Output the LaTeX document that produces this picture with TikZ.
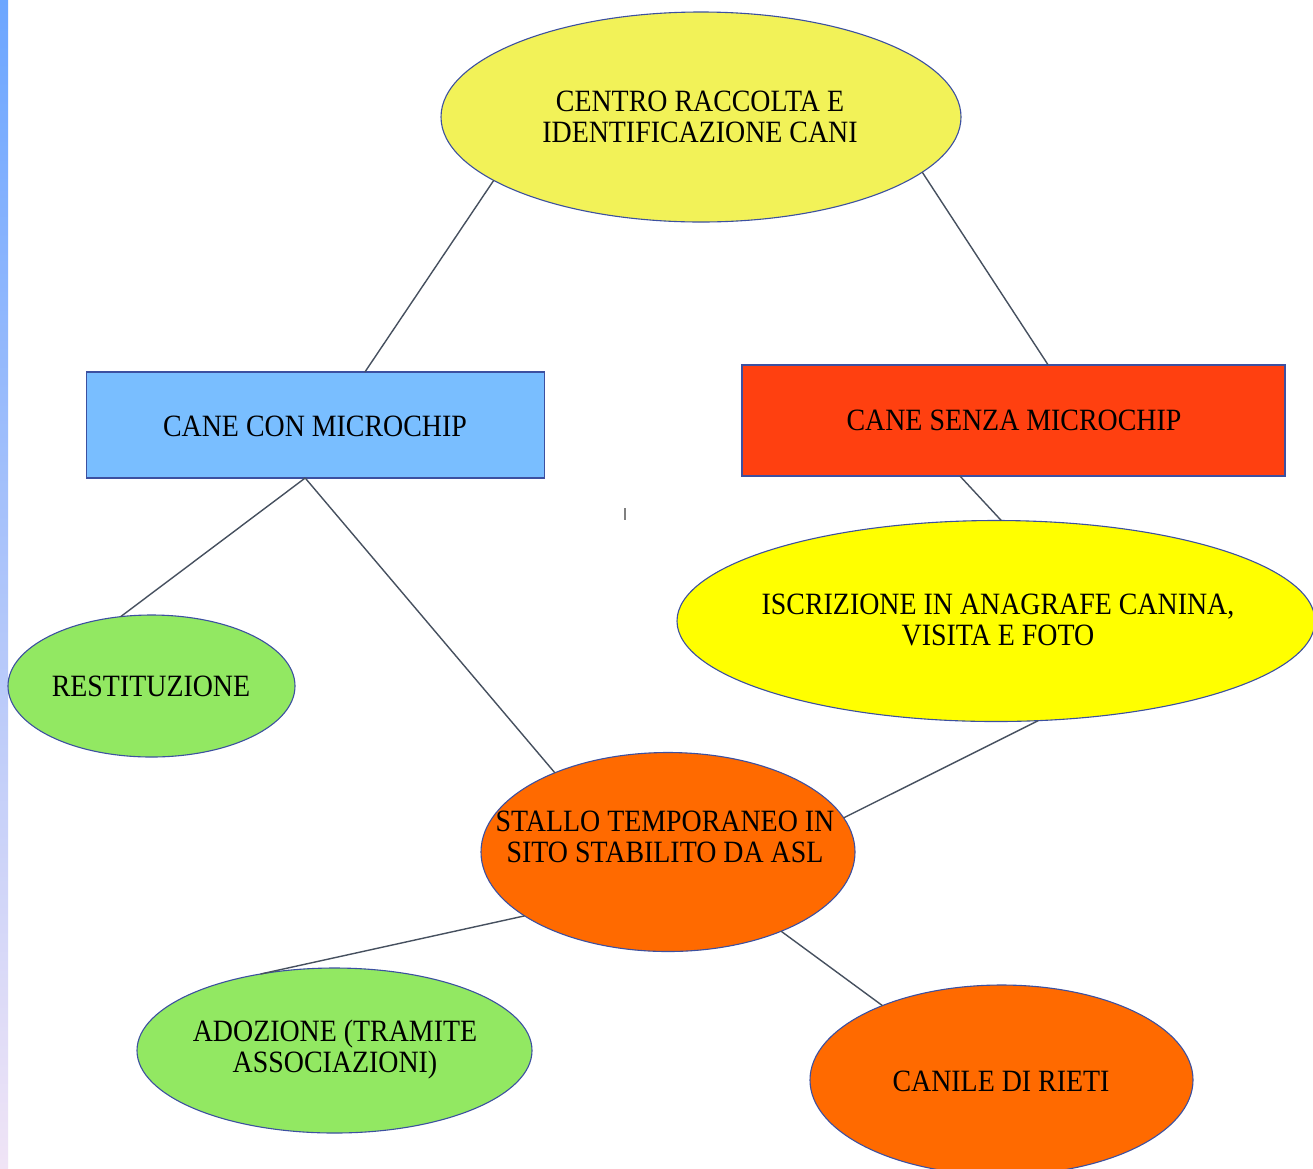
\documentclass[tikz,border=0pt]{standalone}
\usepackage{fontspec}
\setmainfont{Liberation Serif}[FakeStretch=0.9]
\usetikzlibrary{shapes.geometric}
\definecolor{paleyellow}{RGB}{242,242,88}
\definecolor{brightyellow}{RGB}{255,255,0}
\definecolor{skyblue}{RGB}{121,190,255}
\definecolor{redorange}{RGB}{255,64,16}
\definecolor{orangefill}{RGB}{255,106,0}
\definecolor{lightgreen}{RGB}{146,232,98}
\definecolor{edgeblue}{RGB}{60,80,160}
\definecolor{linkgray}{RGB}{70,80,95}
\definecolor{bartop}{RGB}{108,166,255}
\definecolor{barbottom}{RGB}{240,228,246}
\begin{document}
\begin{tikzpicture}[x=1pt,y=-1pt,
  oval/.style={ellipse, draw=edgeblue, line width=1.1pt, inner sep=0pt, outer sep=0pt},
  box/.style={rectangle, draw=edgeblue, line width=1.1pt, inner sep=0pt, outer sep=0pt},
  txt/.style={align=center, inner sep=0pt, text=black, font=\fontsize{31}{31}\selectfont},
  link/.style={draw=linkgray, line width=1.4pt}]
\useasboundingbox (0,0) rectangle (1313,1168);
\clip (0,0) rectangle (1313,1168);
\fill[white] (0,0) rectangle (1313,1168);
\shade[top color=bartop, bottom color=barbottom] (0,0) rectangle (8,1168);

% shapes
\node[oval, fill=paleyellow, minimum width=520pt, minimum height=210pt] (centro) at (701,117) {};
\node[box, fill=skyblue, minimum width=458pt, minimum height=106pt] (con) at (315.5,425) {};
\node[box, fill=redorange, minimum width=543pt, minimum height=111pt] (senza) at (1013.5,420.5) {};
\node[oval, fill=lightgreen, minimum width=287pt, minimum height=142pt] (rest) at (151.5,686) {};
\node[oval, fill=brightyellow, minimum width=638pt, minimum height=201pt] (iscr) at (996,621) {};
\node[oval, fill=orangefill, minimum width=374pt, minimum height=199pt] (stallo) at (668,852) {};
\node[oval, fill=lightgreen, minimum width=395pt, minimum height=165pt] (adoz) at (334.5,1050.5) {};
\node[oval, fill=orangefill, minimum width=383pt, minimum height=190pt] (canile) at (1001.5,1080) {};

% texts
\node[txt] (centrot) at (700,117) {CENTRO RACCOLTA E\\IDENTIFICAZIONE CANI};
\node[txt] (cont) at (315,426) {CANE CON MICROCHIP};
\node[txt] (senzat) at (1014,420) {CANE SENZA MICROCHIP};
\node[txt] (restt) at (151,686) {RESTITUZIONE};
\node[txt] (iscrt) at (998,620) {ISCRIZIONE IN ANAGRAFE CANINA,\\VISITA E FOTO};
\node[txt] (stallot) at (665,837) {STALLO TEMPORANEO IN\\SITO STABILITO DA ASL};
\node[txt] (adozt) at (335,1050) {ADOZIONE (TRAMITE\\ASSOCIAZIONI)};
\node[txt] (canilet) at (1001,1081) {CANILE DI RIETI};

% connectors
\draw[link] (centro.197.6) -- (con.47.9);
\draw[link] (centro.346) -- (senza.58.9);
\draw[link] (con.259.7) -- (rest.114.6);
\draw[link] (con.259.7) -- (stallo.145.2);
\draw[link] (senza.226) -- (iscr.87.7);
\draw[link] (iscr.293.5) -- (stallo.11.7);
\draw[link] (stallo.204.7) -- (adoz.134.3);
\draw[link] (stallo.325.6) -- (canile.148);

% stray mark
\draw[gray, line width=1.5pt] (625,508) -- (625,520);
\end{tikzpicture}
\end{document}
